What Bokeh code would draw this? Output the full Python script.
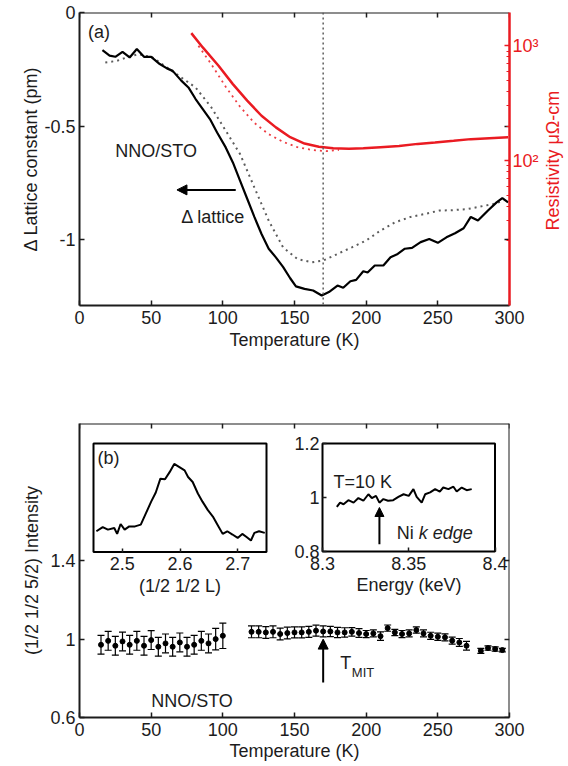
import math
from bokeh.plotting import figure
from bokeh.layouts import column, row
from bokeh.models import (Range1d, LinearAxis, LogAxis, LogScale, FixedTicker,
                          CustomJSTickFormatter, Span, Arrow, NormalHead, Label,
                          Whisker, TeeHead, ColumnDataSource)
from bokeh.embed import file_html
from bokeh.resources import INLINE

# ---------------- panel (a) data ----------------
temp_lattice = [16, 21, 25, 30, 35, 40, 45, 50, 56, 61, 65, 71, 76, 81, 86, 91, 96, 102, 107, 112,
                117, 122, 127, 132, 137, 142, 147, 151, 157, 163, 169, 174, 180, 184, 189, 193, 198, 201, 206, 212,
                217, 222, 227, 232, 238, 244, 250, 256, 262, 268, 273, 278, 285, 291, 295, 299]
lattice_solid = [-0.166, -0.19, -0.195, -0.173, -0.198, -0.161, -0.195, -0.195, -0.227, -0.246,
                 -0.257, -0.30, -0.33, -0.381, -0.425, -0.469, -0.528, -0.594, -0.66, -0.74,
                 -0.82, -0.90, -0.975, -1.04, -1.078, -1.12, -1.17, -1.206, -1.217, -1.224,
                 -1.246, -1.231, -1.202, -1.212, -1.183, -1.177, -1.139, -1.145, -1.114, -1.114,
                 -1.078, -1.063, -1.04, -1.036, -1.011, -0.997, -1.014, -0.99, -0.972, -0.95,
                 -0.90, -0.916, -0.872, -0.836, -0.817, -0.836]
temp_dotted = [18, 26, 33, 41, 51, 61, 71, 81, 92, 102, 112, 122, 132, 142, 152, 162, 170, 180, 190, 200,
               210, 220, 231, 241, 251, 261, 271, 279, 289, 296]
lattice_dotted = [-0.22, -0.213, -0.198, -0.183, -0.198, -0.242, -0.286, -0.33, -0.418, -0.52,
                  -0.623, -0.77, -0.916, -1.034, -1.085, -1.10, -1.092, -1.063, -1.034, -1.004,
                  -0.96, -0.924, -0.90, -0.887, -0.872, -0.87, -0.865, -0.855, -0.843, -0.828]
temp_res = [78, 86, 97, 107, 117, 127, 137, 147, 157, 167, 177, 188, 198, 210, 223, 236, 248, 261, 273, 286, 299]
rho_solid = [1290, 968, 670, 464, 333, 246, 195, 160, 141, 132, 128, 127, 128, 131, 134, 140, 144, 149, 154, 157, 160]
temp_res_dotted = [83, 92, 102, 112, 122, 132, 142, 152, 162, 172, 181]
rho_dotted = [1000, 690, 440, 295, 213, 170, 146, 131, 124, 121, 124]
T_MIT = 170

x_ticks = [0, 50, 100, 150, 200, 250, 300]
lat_ticks = [-1, -0.5, 0]
res_ticks = [100, 1000]
res_minor = [20, 30, 40, 50, 60, 70, 80, 90, 200, 300, 400, 500, 600, 700, 800, 900]

# ---------------- panel (b) data ----------------
temp_b = [15, 20, 25, 30, 35, 40, 45, 50, 55, 60, 65, 70, 75, 80, 85, 90, 95, 100,
          120, 125, 130, 135, 140, 145, 150, 155, 160, 165, 170, 175, 180, 185, 190, 195,
          200, 205, 210, 215, 220, 225, 230, 235, 240, 245, 250, 255, 260, 265, 270,
          280, 285, 290, 295]
int_b = [0.971, 0.991, 0.966, 0.988, 0.971, 0.991, 0.966, 0.995, 0.961, 0.978, 0.961, 0.983, 0.961, 0.971,
         0.991, 0.978, 1.0, 1.017,
         1.037, 1.037, 1.034, 1.037, 1.026, 1.031, 1.034, 1.034, 1.037, 1.043, 1.039, 1.039, 1.034, 1.034,
         1.037, 1.031,
         1.026, 1.029, 1.015, 1.056, 1.034, 1.026, 1.029, 1.046, 1.029, 1.017, 1.012, 1.009, 0.992, 0.983,
         0.966,
         0.94, 0.954, 0.949, 0.944]
err_b = [0.048, 0.048, 0.048, 0.048, 0.048, 0.048, 0.048, 0.048, 0.048, 0.048, 0.048, 0.048, 0.048, 0.048,
         0.048, 0.048, 0.055, 0.065,
         0.03, 0.03, 0.03, 0.03, 0.03, 0.03, 0.028, 0.028, 0.028, 0.028, 0.028, 0.026, 0.026, 0.024,
         0.022, 0.022,
         0.018, 0.018, 0.022, 0.016, 0.016, 0.018, 0.018, 0.016, 0.018, 0.018, 0.018, 0.018, 0.018, 0.02,
         0.022,
         0.013, 0.011, 0.011, 0.009]
b_y_ticks = [0.6, 1, 1.4]

inset1_L = [2.455, 2.466, 2.475, 2.486, 2.491, 2.497, 2.504, 2.512, 2.522, 2.532, 2.541, 2.55, 2.558, 2.566,
            2.574, 2.582, 2.59, 2.599, 2.608, 2.614, 2.622, 2.631, 2.639, 2.648, 2.657, 2.665, 2.674, 2.682,
            2.691, 2.7, 2.708, 2.716, 2.723, 2.729, 2.737, 2.747]
inset1_I = [0.191, 0.23, 0.206, 0.221, 0.167, 0.258, 0.206, 0.236, 0.236, 0.252, 0.358, 0.464, 0.548, 0.676,
            0.67, 0.736, 0.812, 0.782, 0.752, 0.691, 0.645, 0.539, 0.464, 0.388, 0.327, 0.252, 0.167, 0.191,
            0.161, 0.13, 0.167, 0.136, 0.106, 0.176, 0.191, 0.176]
inset1_ticks = [2.5, 2.6, 2.7]

inset2_E = [8.3083, 8.3102, 8.3122, 8.315, 8.318, 8.3208, 8.3237, 8.3266, 8.3286, 8.331, 8.333, 8.3353,
            8.338, 8.341, 8.344, 8.347, 8.35, 8.3527, 8.3546, 8.3575, 8.3595, 8.3624, 8.3653, 8.368, 8.37,
            8.373, 8.3759, 8.3778, 8.3807, 8.3836, 8.3865]
inset2_I = [0.965, 0.981, 0.975, 0.99, 0.981, 0.998, 0.988, 1.012, 0.998, 1.006, 0.981, 0.994, 0.988, 0.99,
            1.002, 1.012, 1.006, 1.031, 1.002, 0.981, 1.012, 1.019, 1.031, 1.022, 1.037, 1.031, 1.04, 1.022,
            1.037, 1.027, 1.031]
inset2_x_ticks = [8.3, 8.35, 8.4]
inset2_y_ticks = [0.8, 1, 1.2]
NI_EDGE = 8.333

# ---------------- style ----------------
FONT = "Liberation Sans"
FS = "18px"
TXT = "#1c1c1c"
RED = "#ea1b22"
GRAY = "#5c5c5c"
PLAIN = "return tick.toString()"
EMPTY = "return ''"


def style(ax, ticks, minor=(), code=PLAIN, color=TXT, tick_len=5):
    ax.ticker = FixedTicker(ticks=list(ticks), minor_ticks=list(minor))
    ax.formatter = CustomJSTickFormatter(code=code)
    ax.axis_line_color = color
    ax.axis_line_width = 2
    ax.major_tick_line_color = color
    ax.major_tick_line_width = 1.5
    ax.major_tick_in = tick_len
    ax.major_tick_out = 0
    ax.minor_tick_line_color = color
    ax.minor_tick_in = 3
    ax.minor_tick_out = 0
    ax.major_label_text_font = FONT
    ax.major_label_text_font_size = FS
    ax.major_label_text_color = color
    ax.major_label_standoff = 4
    ax.axis_label_text_font = FONT
    ax.axis_label_text_font_size = FS
    ax.axis_label_text_font_style = "normal"
    ax.axis_label_text_color = color


def label(p, x, y, text, size=FS, color=TXT, style_="normal", **kw):
    lab = Label(x=x, y=y, text=text, text_font=FONT, text_font_size=size, text_color=color,
                text_font_style=style_, text_baseline="middle", **kw)
    p.add_layout(lab)
    return lab


def mapped_range(a, b, p0, p1, size):
    k = (b - a) / (p1 - p0)
    return Range1d(start=a - p0 * k, end=a + (size - p0) * k)


# ================= panel (a) =================
top = figure(width=541, height=352, x_range=Range1d(0, 300), y_range=Range1d(-1.29, 0),
             output_backend="svg", toolbar_location=None,
             min_border_left=79, min_border_right=32, min_border_top=12, min_border_bottom=47)
top.outline_line_color = None
top.grid.visible = False

xa = top.xaxis[0]
style(xa, x_ticks)
xa.axis_label = "Temperature (K)"
xa.major_label_standoff = 5
xa.axis_label_standoff = 3
ya = top.yaxis[0]
style(ya, lat_ticks)
ya.axis_label = "\u0394 Lattice constant (pm)"
ya.axis_label_standoff = 0

ta = LinearAxis(fixed_location=0)
style(ta, x_ticks, code=EMPTY)
top.add_layout(ta, "above")
ra = LinearAxis(fixed_location=300)
style(ra, [-1, -0.5], code=EMPTY)
ra.axis_line_color = None
top.add_layout(ra, "right")

top.extra_y_ranges = {"res": Range1d(10 ** 0.739, 10 ** 3.29)}
top.extra_y_scales = {"res": LogScale()}
rax = LogAxis(y_range_name="res")
style(rax, res_ticks, minor=res_minor, code="return tick < 500 ? '10\u00b2' : '10\u00b3'", color=RED)
rax.axis_line_width = 2.5
rax.major_label_standoff = 3
top.add_layout(rax, "right")

top.add_layout(Span(location=T_MIT, dimension="height", line_color=GRAY, line_dash="2 3", line_width=1.5))
top.line(temp_dotted, lattice_dotted, line_color=GRAY, line_width=2, line_dash="2 4")
top.line(temp_lattice, lattice_solid, line_color="black", line_width=2.2)
top.line(temp_res_dotted, rho_dotted, line_color=RED, line_width=1.8, line_dash="2 4", line_alpha=0.85,
         y_range_name="res")
top.line(temp_res, rho_solid, line_color=RED, line_width=2.5, y_range_name="res")

label(top, 6, -0.085, "(a)")
label(top, 25, -0.608, "NNO/STO")
label(top, 71, -0.90, "\u0394 lattice")
top.add_layout(Arrow(end=NormalHead(size=10, fill_color="black", line_color="black"),
                     x_start=109, y_start=-0.781, x_end=68, y_end=-0.781,
                     line_color="black", line_width=2))

# right-hand axis title of panel (a), reading bottom-to-top as in the original
side = figure(width=27, height=352, x_range=Range1d(0, 27), y_range=Range1d(0, 352),
              output_backend="svg", toolbar_location=None, x_axis_location=None, y_axis_location=None,
              min_border_left=0, min_border_right=0, min_border_top=0, min_border_bottom=0)
side.outline_line_color = None
side.grid.visible = False
label(side, 11, 174, "Resistivity \u03bc\u03a9-cm", color=RED, angle=math.pi / 2, text_align="center")

# ================= panel (b) =================
bot = figure(width=568, height=412, x_range=Range1d(0, 300), y_range=Range1d(0.6, 2.1),
             output_backend="svg", toolbar_location=None,
             min_border_left=79, min_border_right=59, min_border_top=71, min_border_bottom=47)
bot.outline_line_color = None
bot.grid.visible = False

bx = bot.xaxis[0]
style(bx, x_ticks)
bx.axis_label = "Temperature (K)"
bx.major_label_standoff = 5
bx.axis_label_standoff = 2
by = bot.yaxis[0]
style(by, b_y_ticks)
by.axis_label = "(1/2 1/2 5/2) Intensity"
by.axis_label_standoff = 5

bta = LinearAxis(fixed_location=2.1)
style(bta, x_ticks, code=EMPTY)
bot.add_layout(bta, "above")
bra = LinearAxis(fixed_location=300)
style(bra, b_y_ticks, code=EMPTY)
bot.add_layout(bra, "right")

# inset placement in frame pixels (left, right, top, bottom)
FW, FH = 430, 294
IN1 = (14, 187, 20, 128.5)
IN2 = (243, 415.5, 20, 128)
IN1_X, IN1_Y = (2.45, 2.75), (0.0, 1.0)
IN2_X, IN2_Y = (8.3, 8.4), (0.8, 1.2)
bot.extra_x_ranges = {"i1x": mapped_range(IN1_X[0], IN1_X[1], IN1[0], IN1[1], FW),
                      "i2x": mapped_range(IN2_X[0], IN2_X[1], IN2[0], IN2[1], FW)}
bot.extra_y_ranges = {"i1y": mapped_range(IN1_Y[0], IN1_Y[1], FH - IN1[3], FH - IN1[2], FH),
                      "i2y": mapped_range(IN2_Y[0], IN2_Y[1], FH - IN2[3], FH - IN2[2], FH)}

src = ColumnDataSource(dict(x=temp_b, y=int_b,
                            upper=[v + e for v, e in zip(int_b, err_b)],
                            lower=[v - e for v, e in zip(int_b, err_b)]))
bot.add_layout(Whisker(source=src, base="x", upper="upper", lower="lower", dimension="height",
                       line_color="black", line_width=1.2,
                       upper_head=TeeHead(size=7, line_width=1.2, line_color="black"),
                       lower_head=TeeHead(size=7, line_width=1.2, line_color="black")))
bot.scatter("x", "y", source=src, marker="circle", size=5, color="black")

# inset 1
bot.quad(left=[IN1_X[0]], right=[IN1_X[1]], bottom=[IN1_Y[0]], top=[IN1_Y[1]],
         x_range_name="i1x", y_range_name="i1y", fill_color="white", line_color="black", line_width=2)
bot.line(inset1_L, inset1_I, x_range_name="i1x", y_range_name="i1y", line_color="black", line_width=2)
i1b = LinearAxis(x_range_name="i1x", y_range_name="i1y", fixed_location=IN1_Y[0], bounds=IN1_X)
style(i1b, inset1_ticks, tick_len=4)
i1b.axis_line_color = None
i1b.axis_label = "(1/2 1/2 L)"
i1b.major_label_standoff = 5
i1b.axis_label_standoff = 2
bot.add_layout(i1b, "below")
label(bot, 2.457, 0.867, "(b)", x_range_name="i1x", y_range_name="i1y")

# inset 2
bot.quad(left=[IN2_X[0]], right=[IN2_X[1]], bottom=[IN2_Y[0]], top=[IN2_Y[1]],
         x_range_name="i2x", y_range_name="i2y", fill_color="white", line_color="black", line_width=2)
bot.line(inset2_E, inset2_I, x_range_name="i2x", y_range_name="i2y", line_color="black", line_width=2)
i2b = LinearAxis(x_range_name="i2x", y_range_name="i2y", fixed_location=IN2_Y[0], bounds=IN2_X)
style(i2b, inset2_x_ticks, tick_len=4)
i2b.axis_line_color = None
i2b.axis_label = "Energy (keV)"
i2b.major_label_standoff = 5
i2b.axis_label_standoff = 2
bot.add_layout(i2b, "below")
i2l = LinearAxis(x_range_name="i2x", y_range_name="i2y", fixed_location=IN2_X[0], bounds=IN2_Y)
style(i2l, inset2_y_ticks, tick_len=4)
i2l.axis_line_color = None
i2l.major_label_standoff = 3
bot.add_layout(i2l, "left")
label(bot, 8.3064, 1.059, "T=10 K", x_range_name="i2x", y_range_name="i2y")
bot.add_layout(Arrow(end=NormalHead(size=9, fill_color="black", line_color="black"),
                     x_start=NI_EDGE, y_start=0.827, x_end=NI_EDGE, y_end=0.963,
                     x_range_name="i2x", y_range_name="i2y", line_color="black", line_width=2))
label(bot, 8.343, 0.87, "Ni", x_range_name="i2x", y_range_name="i2y")
label(bot, 8.343, 0.87, "k edge", style_="italic", x_offset=22, x_range_name="i2x", y_range_name="i2y")

# main annotations
label(bot, 50, 0.685, "NNO/STO")
bot.add_layout(Arrow(end=NormalHead(size=10, fill_color="black", line_color="black"),
                     x_start=T_MIT, y_start=0.779, x_end=T_MIT, y_end=1.0,
                     line_color="black", line_width=2))
label(bot, 182, 0.877, "T")
label(bot, 190, 0.828, "MIT", size="13px")

layout = column(row(top, side), bot)
open("out.html", "w").write(file_html(layout, INLINE, "plot"))
